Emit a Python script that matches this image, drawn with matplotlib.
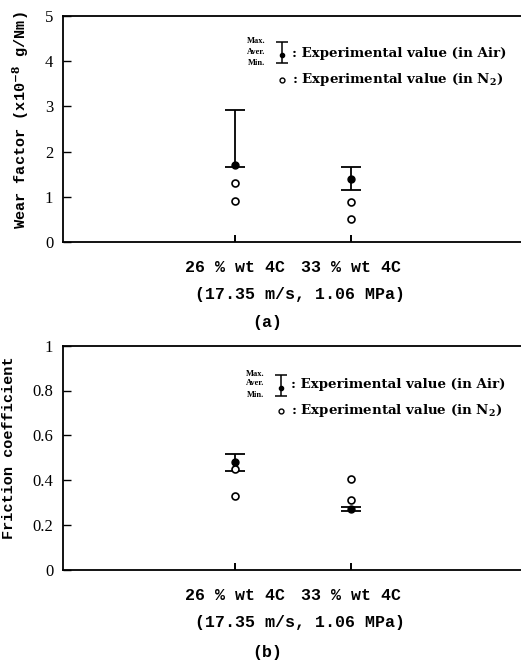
import matplotlib
matplotlib.use("Agg")
import matplotlib.pyplot as plt

plt.rcParams["mathtext.fontset"] = "custom"
plt.rcParams["mathtext.rm"] = "DejaVu Serif:bold"
plt.rcParams["mathtext.it"] = "DejaVu Serif:bold"
plt.rcParams["mathtext.bf"] = "DejaVu Serif:bold"

# ---- data ----
categories = ["26 % wt 4C", "33 % wt 4C"]
condition = "(17.35 m/s, 1.06 MPa)"

# Wear factor (x10^-8 g/Nm)
wear_air_max = [2.93, 1.66]
wear_air_avg = [1.70, 1.39]
wear_air_min = [1.65, 1.15]
wear_n2_a = [1.31, 0.88]
wear_n2_b = [0.91, 0.50]

# Friction coefficient
fric_air_max = [0.515, 0.28]
fric_air_avg = [0.482, 0.27]
fric_air_min = [0.442, 0.26]
fric_n2_a = [0.448, 0.403]
fric_n2_b = [0.33, 0.311]

wear_ticks = [0, 1, 2, 3, 4, 5]
wear_ticklabels = ["0", "1", "2", "3", "4", "5"]
fric_ticks = [0, 0.2, 0.4, 0.6, 0.8, 1.0]
fric_ticklabels = ["0", "0.2", "0.4", "0.6", "0.8", "1"]

W, H = 521, 666
fig = plt.figure(figsize=(W / 100, H / 100), dpi=100)

MONO = "Liberation Mono"
SERIF = "Liberation Serif"
KEYFONT = "DejaVu Serif"


def px_axes(left, top, right, bottom):
    return [left / W, 1 - bottom / H, (right - left) / W, (bottom - top) / H]


def draw_panel(ax, amax, aavg, amin, n2a, n2b, ymax, yticks, yticklabels,
               ylabel, ylabel_pos, ylabel_size, leg):
    xpos = [0, 1]
    lower = [a - m for a, m in zip(aavg, amin)]
    upper = [m - a for a, m in zip(aavg, amax)]
    ax.errorbar(xpos, aavg, yerr=[lower, upper], fmt="o", color="black",
                ms=5, elinewidth=1.3, capsize=7, capthick=1.3, zorder=3)
    ax.plot(xpos, n2a, "o", mfc="white", mec="black", mew=1.2, ms=5, zorder=4)
    ax.plot(xpos, n2b, "o", mfc="white", mec="black", mew=1.2, ms=5, zorder=4)

    ax.set_xlim(-1.483, 2.466)
    ax.set_ylim(0, ymax)
    ax.set_yticks(yticks)
    ax.set_yticklabels(yticklabels, fontfamily=SERIF, fontsize=12)
    ax.set_xticks(xpos)
    ax.set_xticklabels(categories, fontfamily=MONO, fontweight="bold",
                       fontsize=12)
    ax.tick_params(axis="y", direction="in", length=6, width=1, pad=7)
    ax.tick_params(axis="x", direction="in", length=5, width=1.4, pad=13)
    ax.spines["right"].set_visible(False)
    for s in ("left", "bottom", "top"):
        ax.spines[s].set_linewidth(1.3)

    ax.set_xlabel(condition, fontfamily=MONO, fontweight="bold", fontsize=12)
    ax.xaxis.set_label_coords(leg["xlab"][0], leg["xlab"][1])
    ax.xaxis.label.set_va("center")

    ax.set_ylabel(ylabel, fontfamily=MONO, fontweight="bold",
                  fontsize=ylabel_size)
    ax.yaxis.set_label_coords(*ylabel_pos)
    ax.yaxis.label.set_va("center")

    # key for the symbols
    gx = leg["gx"]
    ax.errorbar([gx], [leg["dot"]],
                yerr=[[leg["dot"] - leg["bot"]], [leg["top"] - leg["dot"]]],
                fmt="o", color="black", ms=3, elinewidth=1.1, capsize=4,
                capthick=1.1, transform=ax.transAxes, clip_on=False)
    for lab, yy in zip(["Max.", "Aver.", "Min."], leg["labs"]):
        ax.text(gx - 0.036, yy, lab, transform=ax.transAxes, ha="right",
                va="center", fontfamily=SERIF, fontweight="bold", fontsize=6)
    ax.text(gx + 0.022, leg["t1"], ": Experimental value (in Air)",
            transform=ax.transAxes, ha="left", va="center",
            fontfamily=KEYFONT, fontweight="bold", fontsize=9.6)
    ax.plot([gx], [leg["t2"]], "o", mfc="white", mec="black", mew=1,
            ms=3.5, transform=ax.transAxes, clip_on=False)
    ax.text(gx + 0.022, leg["t2"], r": Experimental value (in N$_2$)",
            transform=ax.transAxes, ha="left", va="center",
            fontfamily=KEYFONT, fontweight="bold", fontsize=9.6)


ax1 = fig.add_axes(px_axes(63, 16, 521, 242))
draw_panel(ax1, wear_air_max, wear_air_avg, wear_air_min, wear_n2_a,
           wear_n2_b, 5, wear_ticks, wear_ticklabels,
           r"Wear factor (x10$^{-8}$ g/Nm)", (-0.092, 0.54), 11,
           dict(gx=0.478, top=0.884, bot=0.791, dot=0.827,
                labs=[0.891, 0.842, 0.793], t1=0.835, t2=0.717,
                xlab=((300 - 63) / 458, -(295 - 242) / 226)))

ax2 = fig.add_axes(px_axes(63, 345.7, 521, 569.7))
draw_panel(ax2, fric_air_max, fric_air_avg, fric_air_min, fric_n2_a,
           fric_n2_b, 1.0, fric_ticks, fric_ticklabels,
           "Friction coefficient", (-0.118, 0.543), 11,
           dict(gx=0.476, top=0.869, bot=0.775, dot=0.811,
                labs=[0.874, 0.834, 0.780], t1=0.825, t2=0.709,
                xlab=((300 - 63) / 458, -(295 - 242) / 224)))

fig.text(267 / W, 1 - 322 / H, "(a)", ha="center", va="center",
         fontfamily=MONO, fontweight="bold", fontsize=12)
fig.text(267 / W, 1 - 652 / H, "(b)", ha="center", va="center",
         fontfamily=MONO, fontweight="bold", fontsize=12)

fig.savefig("out.png", dpi=100)
